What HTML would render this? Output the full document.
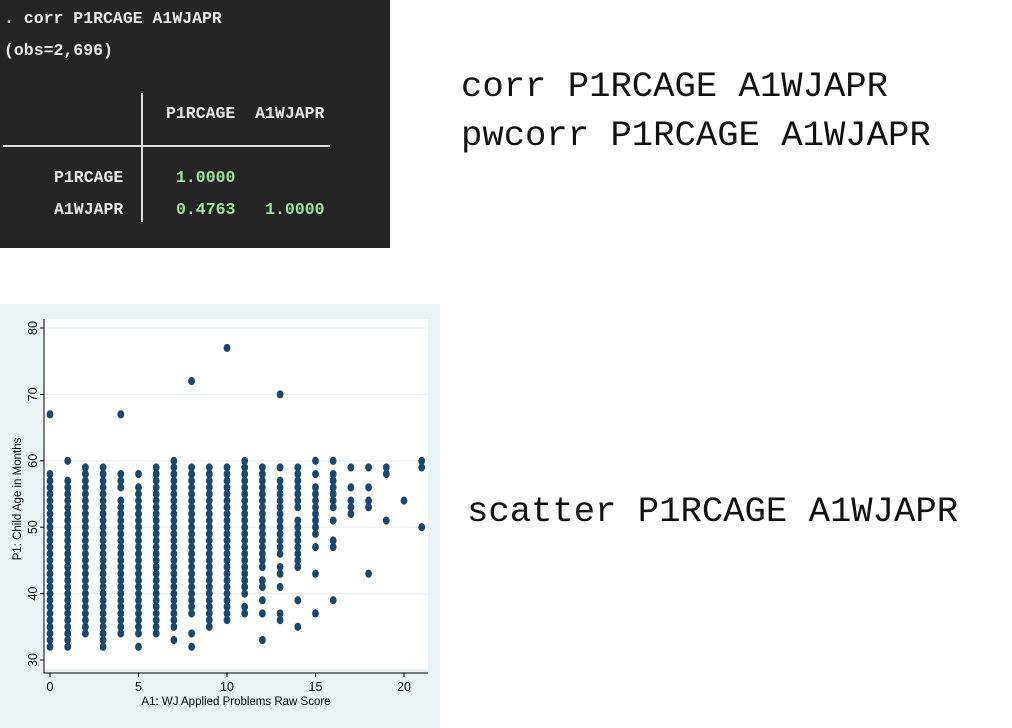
<!DOCTYPE html>
<html><head><meta charset="utf-8"><style>
body{margin:0;width:1012px;height:728px;background:#fff;position:relative;overflow:hidden;font-family:"Liberation Sans",sans-serif}
#term{position:absolute;left:0;top:0;width:390px;height:248px;background:#252525;font-family:"Liberation Mono",monospace;font-size:16.5px;font-weight:bold;color:#e6e6e6}
#term div{position:absolute;white-space:pre}
.g{color:#9fe29b}
.cmd{position:absolute;font-family:"Liberation Mono",monospace;font-size:35.6px;color:#111;white-space:pre}
</style></head><body>
<div id="term">
<div style="left:4px;top:9px">. corr P1RCAGE A1WJAPR</div>
<div style="left:4px;top:41px">(obs=2,696)</div>
<div style="left:166px;top:104px">P1RCAGE  A1WJAPR</div>
<div style="left:3px;top:145px;width:327px;height:2px;background:#ddd"></div>
<div style="left:141px;top:93px;width:2px;height:129px;background:#ddd"></div>
<div style="left:54px;top:168px">P1RCAGE</div>
<div style="left:54px;top:200px">A1WJAPR</div>
<div class="g" style="left:176px;top:168px">1.0000</div>
<div class="g" style="left:176px;top:200px">0.4763   1.0000</div>
</div>
<div class="cmd" style="left:461px;top:66px">corr P1RCAGE A1WJAPR</div>
<div class="cmd" style="left:461px;top:115px">pwcorr P1RCAGE A1WJAPR</div>
<div class="cmd" style="left:467px;top:491px">scatter P1RCAGE A1WJAPR</div>
<svg id="chart" style="position:absolute;left:0;top:304px" width="440" height="424"></svg>
<script>
const xs=[0,1,2,3,4,5,6,7,8,9,10,11,12,13,14,15,16,17,18,19,20,21];
const ages=[
"32-58,67","32-57,60","34-59","32-59","34-54,56-58,67","32,34-56,58","34-59","33,35-60",
"32,34,37-59,72","35-59","36-59,77","37-38,40-60","33,37,39,41-42,44-59",
"36-37,41,43-44,46-57,59,70","35,39,44-51,53-59","37,43,47,49-56,58,60",
"39,47-48,51,53-58,60","52-54,56,59","43,53-54,56,59","51,58-59","54","50,59-60"];
const xTicks=[0,5,10,15,20];
const yTicks=[30,40,50,60,70,80];
const NS="http://www.w3.org/2000/svg";
const svg=document.getElementById('chart');
const X=v=>50+v*17.7;
const Y=v=>356-(v-30)*6.64;
function mk(t,a){const e=document.createElementNS(NS,t);for(const k in a)e.setAttribute(k,a[k]);svg.appendChild(e);return e;}
const bg=mk('rect',{x:0,y:0,width:440,height:424,fill:'#eaf2f3'});


const pa=mk('rect',{x:44,y:15,width:384,height:350,fill:'#fff'});


yTicks.forEach(t=>{
 if(t>30){const g=mk('line',{x1:44,x2:428,y1:Y(t),y2:Y(t),stroke:'#eaf2f3','stroke-width':1.2});
 
 }
 const tk=mk('line',{x1:40,x2:44,y1:Y(t),y2:Y(t),stroke:'#000'});
 
 
 const l=mk('text',{x:0,y:0,transform:`translate(37,${Y(t)}) rotate(-90)`,'text-anchor':'middle','font-size':12.5,fill:'#000'});
 l.textContent=t;
 
 
});
xTicks.forEach(t=>{
 const tk=mk('line',{x1:X(t),x2:X(t),y1:369,y2:373,stroke:'#000'});
 
 
 const l=mk('text',{x:X(t),y:387,'text-anchor':'middle','font-size':12.5,fill:'#000'});
 l.textContent=t;
 
 
});
const ax=mk('path',{d:'M44,15 V369 H428',fill:'none',stroke:'#000','stroke-width':1});


xs.forEach((x,i)=>{
 ages[i].split(',').forEach(seg=>{
  const p=seg.split('-').map(Number);const lo=p[0],hi=p.length>1?p[1]:p[0];
  for(let a=lo;a<=hi;a++){
   const c=mk('ellipse',{cx:X(x),cy:Y(a),rx:3.4,ry:4.1,fill:'#1a476f'});
   
   
  }
 });
});
const xt=mk('text',{x:236,y:401,'text-anchor':'middle','font-size':11.5,fill:'#000'});
xt.textContent='A1: WJ Applied Problems Raw Score';


const yt=mk('text',{x:0,y:0,transform:'translate(21,195) rotate(-90)','text-anchor':'middle','font-size':11.5,fill:'#000'});
yt.textContent='P1: Child Age in Months';


</script>
</body></html>
